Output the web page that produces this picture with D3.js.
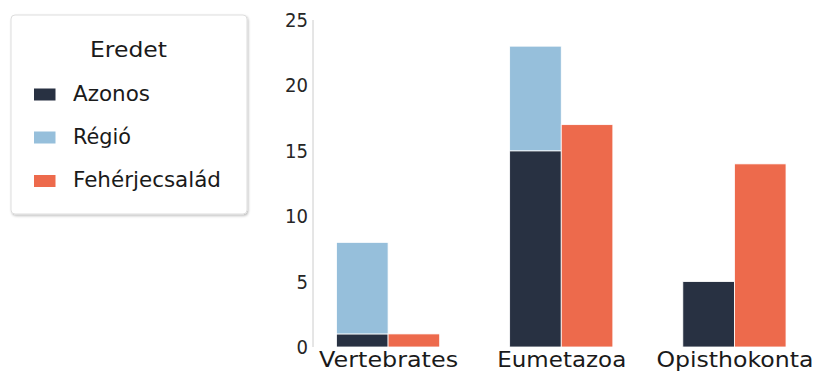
<!DOCTYPE html>
<html><head><meta charset="utf-8">
<script src="https://cdn.jsdelivr.net/npm/d3@7"></script>
<style>body{margin:0;background:#fff;} text{font-family:"DejaVu Sans",sans-serif;}</style>
</head><body>
<svg id="c" width="817" height="373"></svg>
<script>
const categories = ["Vertebrates", "Eumetazoa", "Opisthokonta"];
const azonos = [1, 15, 5];
const regio = [7, 8, 0];
const feherje = [1, 17, 14];
const seriesNames = ["Azonos", "Régió", "Fehérjecsalád"];
const colors = ["#283142", "#96bfdb", "#ed6a4c"];
const yTicks = [0, 5, 10, 15, 20, 25];

const svg = d3.select("#c");
const x = d3.scalePoint().domain(categories).range([301.5, 821]).padding(0.5);
const y = d3.scaleLinear().domain([0, 25]).range([347, 20]);
const bw = x.step() * 0.298;

// y axis line
svg.append("line").attr("x1", 313).attr("x2", 313).attr("y1", y(25)).attr("y2", y(0))
  .attr("stroke", "#cccccc").attr("stroke-width", 1);
const yAxis = d3.axisLeft(y).tickValues(yTicks).tickSize(0).tickPadding(5);
const ga = svg.append("g").attr("transform", "translate(313,0)").call(yAxis);
ga.select(".domain").remove();
ga.selectAll("text").attr("font-size", 20).attr("fill", "#262626").attr("font-family", "DejaVu Sans")
  .attr("textLength", d => String(d).length * 11.5).attr("lengthAdjust", "spacingAndGlyphs");

const data = categories.map((c, i) => ({c, a: azonos[i], r: regio[i], f: feherje[i]}));
const g = svg.append("g");
// Azonos
g.selectAll(".a").data(data).join("rect")
  .attr("x", d => x(d.c) - bw).attr("width", bw)
  .attr("y", d => y(d.a)).attr("height", d => y(0) - y(d.a))
  .attr("fill", colors[0]).attr("stroke", "#fff").attr("stroke-width", 0.8);
// Régió stacked
g.selectAll(".r").data(data.filter(d => d.r > 0)).join("rect")
  .attr("x", d => x(d.c) - bw).attr("width", bw)
  .attr("y", d => y(d.a + d.r)).attr("height", d => y(d.a) - y(d.a + d.r))
  .attr("fill", colors[1]).attr("stroke", "#fff").attr("stroke-width", 0.8);
// Fehérjecsalád
g.selectAll(".f").data(data).join("rect")
  .attr("x", d => x(d.c)).attr("width", bw)
  .attr("y", d => y(d.f)).attr("height", d => y(0) - y(d.f))
  .attr("fill", colors[2]).attr("stroke", "#fff").attr("stroke-width", 0.8);

// x labels
const xLabelWidths = [139, 129, 157];
const xAxis = d3.axisBottom(x).tickSize(0).tickPadding(0);
const gx = svg.append("g").attr("transform", `translate(0,${y(0)})`).call(xAxis);
gx.select(".domain").remove();
gx.selectAll("text").attr("font-size", 21.5).attr("fill", "#1a1a1a").attr("font-family", "DejaVu Sans")
  .attr("dy", null).attr("y", 20)
  .attr("textLength", (d, i) => xLabelWidths[i]).attr("lengthAdjust", "spacingAndGlyphs");

// legend
const defs = svg.append("defs");
const f = defs.append("filter").attr("id", "sh").attr("x", "-10%").attr("y", "-10%").attr("width", "120%").attr("height", "120%");
f.append("feDropShadow").attr("dx", 1).attr("dy", 1.5).attr("stdDeviation", 1.2).attr("flood-color", "#000").attr("flood-opacity", 0.25);
const lg = svg.append("g");
lg.append("rect").attr("x", 11).attr("y", 15).attr("width", 236).attr("height", 199).attr("rx", 4)
  .attr("fill", "#fff").attr("stroke", "#dddddd").attr("filter", "url(#sh)");
lg.append("text").attr("x", 128.5).attr("y", 57).attr("text-anchor", "middle")
  .attr("font-size", 21).attr("fill", "#1a1a1a").attr("textLength", 77).attr("lengthAdjust", "spacingAndGlyphs").text("Eredet");
const ly = [100.5, 143.5, 187];
const lw = [77, 58, 148];
seriesNames.forEach((n, i) => {
  lg.append("rect").attr("x", 34).attr("y", ly[i] - 12).attr("width", 21.5).attr("height", 12).attr("fill", colors[i]);
  lg.append("text").attr("x", 73).attr("y", ly[i])
    .attr("font-size", 20.5).attr("fill", "#1a1a1a")
    .attr("textLength", lw[i]).attr("lengthAdjust", "spacingAndGlyphs").text(n);
});
</script>
</body></html>
